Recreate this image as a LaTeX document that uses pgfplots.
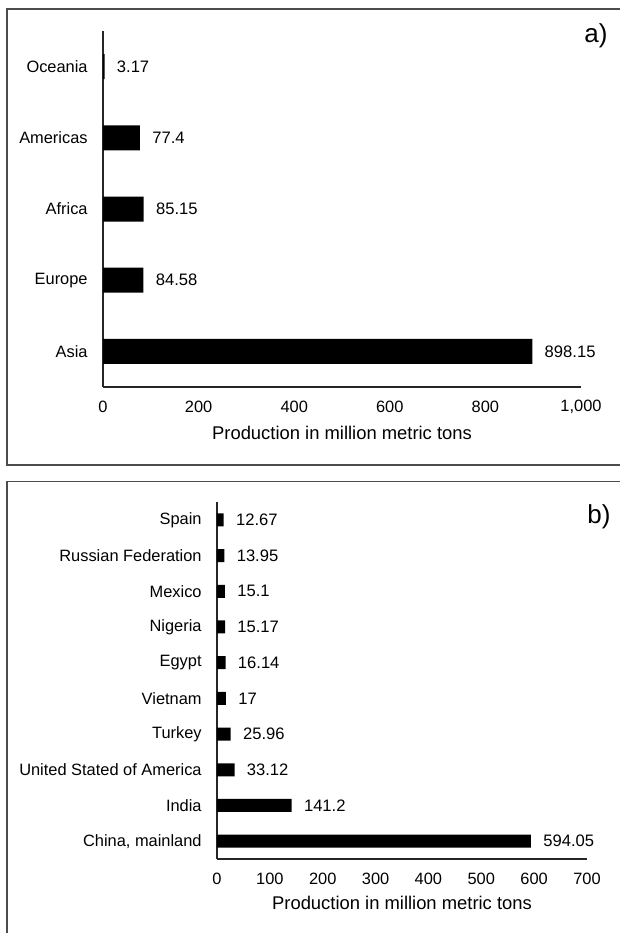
\documentclass[border=0pt]{standalone}
\usepackage{pgfplots}
\pgfplotsset{compat=1.18}
\usepackage{pgfplotstable}
\usepackage{fontspec}
\setmainfont{Liberation Sans}

% regions (a)
\pgfplotstableread{
y val lab
0 898.15 898.15
1 84.58 84.58
2 85.15 85.15
3 77.4 77.4
4 3.17 3.17
}\regiontab

% countries (b)
\pgfplotstableread{
y val lab
0 594.05 594.05
1 141.2 141.2
2 33.12 33.12
3 25.96 25.96
4 17 17
5 16.14 16.14
6 15.17 15.17
7 15.1 15.1
8 13.95 13.95
9 12.67 12.67
}\countrytab

\pgfplotsset{
  prodbar/.style={
    anchor=south west, scale only axis, clip=false,
    xbar, xmin=0,
    axis x line*=bottom, axis y line*=left,
    axis line style={black!85, line width=0.75pt, -},
    major tick length=0pt,
    scaled x ticks=false,
    /pgf/number format/assume math mode=true,
    /pgf/number format/1000 sep={,},
    tick label style={font=\fontsize{8.2}{10}\selectfont},
    xticklabel style={anchor=center, yshift=-10pt},
    yticklabel style={anchor=east, inner sep=0pt, xshift=-7.5pt},
    xlabel={Production in million metric tons},
    xlabel style={at={(axis description cs:0.5,0)}, anchor=center, font=\fontsize{9.2}{11}\selectfont},
    nodes near coords, point meta=explicit symbolic,
    nodes near coords style={anchor=west, inner sep=0pt, xshift=6pt, font=\fontsize{8.3}{10}\selectfont, black},
  },
}

\begin{document}
\begin{tikzpicture}
\useasboundingbox (0pt,0pt) rectangle (310pt,466.5pt);

% panel frames
\draw[black!70, line width=0.9pt] (320pt,462pt) -- (3.5pt,462pt) -- (3.5pt,234pt) -- (320pt,234pt);
\draw[black!70, line width=0.9pt] (320pt,225.75pt) -- (3.5pt,225.75pt) -- (3.5pt,-10pt);

\begin{axis}[prodbar,
  at={(51.5pt,273pt)}, width=239pt, height=178pt,
  bar width=12.5pt,
  xmax=1000, ymin=-0.5, ymax=4.5,
  xtick={0,200,...,1000},
  ytick={0,...,4}, yticklabels={Asia,Europe,Africa,Americas,Oceania},
  xlabel style={yshift=-23pt},
]
\addplot[fill=black, draw=none] table[x=val, y=y, meta=lab] \regiontab;
\end{axis}

\begin{axis}[prodbar,
  at={(108.5pt,37pt)}, width=185pt, height=178.5pt,
  bar width=6.5pt,
  xmax=700, ymin=-0.5, ymax=9.5,
  xtick={0,100,...,700},
  ytick={0,...,9},
  yticklabels={{China, mainland},India,United Stated of America,Turkey,Vietnam,Egypt,Nigeria,Mexico,Russian Federation,Spain},
  xlabel style={yshift=-22pt},
]
\addplot[fill=black, draw=none] table[x=val, y=y, meta=lab] \countrytab;
\end{axis}

\node[font=\fontsize{13}{15}\selectfont, anchor=center] at (298pt,448.5pt) {a)};
\node[font=\fontsize{13}{15}\selectfont, anchor=center] at (299.5pt,208pt) {b)};
\end{tikzpicture}
\end{document}
